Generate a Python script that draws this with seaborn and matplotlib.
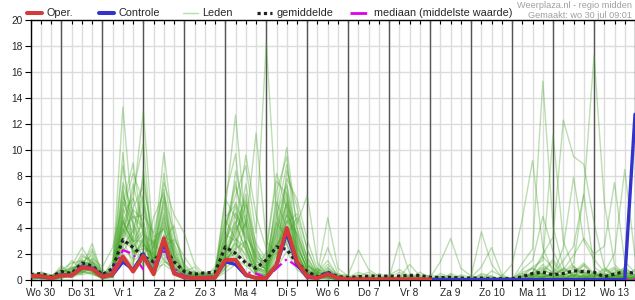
import numpy as np
import pandas as pd
import matplotlib
matplotlib.use("Agg")
import matplotlib.pyplot as plt
import seaborn as sns
from matplotlib.lines import Line2D

# ---------------- data (6-hourly steps, start Wo 30 06:00) ----------------
dagen = ['Wo 30', 'Do 31', 'Vr 1', 'Za 2', 'Zo 3', 'Ma 4', 'Di 5', 'Wo 6',
         'Do 7', 'Vr 8', 'Za 9', 'Zo 10', 'Ma 11', 'Di 12', 'Wo 13']

oper = [0.3, 0.3, 0.15, 0.35, 0.35, 0.95, 0.85, 0.25, 0.45, 1.8, 0.65, 1.85, 0.45, 3.2, 0.5,
        0.2, 0.15, 0.15, 0.2, 1.55, 1.55, 0.4, 0.15, 0.15, 1.15, 4.0, 1.4, 0.25, 0.15, 0.45,
        0.15, 0.05, 0.05, 0.05, 0.05, 0.05, 0.05, 0.05, 0.05, 0.05]

controle = [0.3, 0.25, 0.15, 0.4, 0.35, 1.0, 0.9, 0.3, 0.4, 1.4, 0.8, 2.0, 0.5, 2.8, 0.55,
            0.2, 0.15, 0.15, 0.2, 1.4, 1.2, 0.35, 0.15, 0.15, 1.1, 3.6, 1.2, 0.2, 0.15, 0.55,
            0.15, 0.03, 0.03, 0.03, 0.03, 0.03, 0.03, 0.03, 0.03, 0.03, 0.03, 0.03, 0.03, 0.03, 0.03,
            0.03, 0.03, 0.03, 0.03, 0.03, 0.03, 0.03, 0.03, 0.03, 0.03, 0.03, 0.03, 0.03, 0.03, 12.75]

gemiddelde = [0.4, 0.5, 0.25, 0.65, 0.5, 1.3, 1.1, 0.4, 0.9, 3.1, 2.5, 1.8, 1.4, 2.55, 1.4,
              0.65, 0.45, 0.55, 0.6, 2.55, 2.05, 1.3, 0.9, 1.55, 2.55, 2.35, 1.3, 0.65, 0.25, 0.6,
              0.25, 0.2, 0.25, 0.3, 0.3, 0.3, 0.3, 0.35, 0.35, 0.2, 0.2, 0.2, 0.15, 0.15, 0.15,
              0.1, 0.1, 0.1, 0.25, 0.5, 0.6, 0.4, 0.5, 0.7, 0.65, 0.6, 0.25, 0.45, 0.65, 0.5]

mediaan = [0.3, 0.3, 0.15, 0.4, 0.4, 1.1, 1.0, 0.3, 0.65, 2.3, 2.0, 0.8, 1.2, 2.2, 0.9,
           0.3, 0.2, 0.25, 0.25, 1.5, 1.4, 0.6, 0.5, 0.15, 0.9, 1.6, 1.05, 0.4, 0.15, 0.4,
           0.1, 0.05, 0.05, 0.05, 0.05, 0.05, 0.05, 0.05, 0.05, 0.05, 0.05, 0.05, 0.05, 0.05, 0.05,
           0.05, 0.05, 0.05, 0.05, 0.05, 0.05, 0.05, 0.05, 0.05, 0.05, 0.05, 0.05, 0.05, 0.05, 0.05]

leden = [
 [0.2,0.4,0.1, 0.3,0.6,1.2,1.0, 0.3,0.8,13.3,4.2, 2.1,0.8,3.5,1.2, 0.2,0.1,0.0,0.3, 2.4,1.8,0.6,0.2, 0.4,1.5,5.2,2.3, 0.4,0.1,0.6,0.1, 0.0,0.1,0.0,0.2, 0.1,0.3,0.0,0.1, 0.0,0.0,0.2,0.0, 0.0,0.1,0.0,0.0, 0.0,0.3,0.9,0.4, 0.2,0.0,0.6,1.1, 0.3,0.1,0.2,0.5, 0.2],
 [0.4,0.2,0.3, 0.8,0.5,1.8,1.5, 0.2,0.5,3.8,6.1, 13.0,2.4,5.6,1.8, 0.5,0.3,0.6,0.2, 3.1,4.5,2.2,0.6, 1.2,3.8,6.5,1.4, 0.8,0.2,0.3,0.0, 0.1,0.0,0.0,0.0, 0.0,0.0,0.1,0.0, 0.0,0.2,0.0,0.1, 0.0,0.0,0.0,0.1, 0.0,0.0,0.4,1.2, 0.5,0.8,0.3,0.2, 0.0,0.4,0.9,0.3, 0.1],
 [0.1,0.3,0.0, 0.2,0.9,0.6,2.2, 0.4,1.2,6.8,3.0, 4.5,1.1,8.2,2.6, 0.8,0.2,0.1,0.4, 5.5,12.7,4.1,1.0, 0.6,2.0,3.4,4.8, 1.5,0.3,0.2,0.1, 0.0,0.0,0.3,0.0, 0.2,0.0,0.0,0.0, 0.1,0.0,0.0,0.0, 0.3,0.0,0.0,0.0, 0.0,0.0,0.2,0.6, 1.4,0.3,0.0,0.1, 0.6,0.2,0.0,0.4, 0.8],
 [0.3,0.2,0.2, 0.5,0.3,0.9,0.6, 0.1,0.3,2.5,1.6, 3.2,0.9,2.8,0.6, 0.3,0.1,0.2,1.0, 4.2,6.5,8.8,3.6, 18.3,5.1,2.7,1.1, 0.3,0.5,1.2,0.4, 0.1,0.2,0.0,0.0, 0.0,0.4,0.2,0.0, 0.0,0.0,0.1,0.3, 0.0,0.0,0.2,0.0, 0.1,0.0,0.3,0.2, 0.0,0.5,1.1,0.3, 0.2,0.0,0.3,0.1, 0.0],
 [0.5,0.3,0.1, 0.4,1.5,0.8,0.9, 0.6,0.2,4.6,2.8, 1.9,3.1,1.5,0.8, 0.1,0.4,0.3,0.0, 1.8,2.9,1.4,0.3, 0.2,6.8,9.5,2.0, 0.3,0.2,0.4,0.2, 0.1,0.0,0.0,0.1, 0.0,0.0,0.3,0.2, 0.0,0.0,0.0,0.0, 0.1,0.0,0.0,0.0, 0.0,0.2,0.5,0.3, 0.4,1.5,2.6,6.6, 17.3,6.0,1.2,0.4, 0.2],
 [0.2,0.6,0.4, 0.3,0.4,1.1,0.7, 0.3,0.9,7.5,5.2, 2.8,1.6,4.2,0.9, 0.4,0.6,0.2,0.1, 2.0,3.6,5.8,1.9, 1.0,4.4,7.2,3.0, 0.7,0.1,0.5,0.2, 0.0,0.3,0.1,0.0, 0.1,0.0,0.0,0.2, 0.0,0.1,0.0,0.0, 0.0,0.2,0.0,0.0, 0.0,1.3,2.4,15.3, 4.1,1.0,0.3,0.1, 0.4,0.2,0.6,0.9, 0.3],
 [0.0,0.2,0.3, 0.6,0.2,0.5,1.3, 0.2,0.6,5.3,8.2, 6.0,2.2,9.8,3.4, 1.2,0.5,0.3,0.2, 0.8,5.1,3.2,0.8, 0.5,1.2,8.4,5.6, 2.3,0.6,0.3,0.0, 0.2,0.0,0.0,0.0, 0.0,0.1,0.0,0.0, 0.2,0.0,0.0,0.1, 0.0,0.0,0.1,0.0, 0.0,0.4,1.0,1.5, 11.2,3.0,0.9,0.4, 0.2,0.8,0.3,0.1, 0.0],
 [0.3,0.1,0.0, 0.2,0.7,1.4,0.9, 0.5,0.4,3.1,1.2, 5.8,0.7,2.4,1.5, 0.2,0.1,0.4,0.6, 6.4,9.7,2.5,0.4, 0.3,2.6,4.0,1.6, 0.4,0.0,0.8,0.3, 0.0,0.1,0.2,0.0, 0.0,0.2,0.0,0.0, 0.0,0.0,0.4,0.0, 0.0,0.0,0.0,0.2, 0.1,0.0,0.6,2.0, 3.3,12.3,9.5,8.9, 4.4,1.0,0.3,0.2, 0.1],
 [0.1,0.3,0.2, 1.1,0.4,0.7,0.5, 0.2,1.5,8.8,3.9, 1.4,4.8,6.7,0.7, 0.1,0.2,0.1,0.3, 1.2,2.2,6.0,2.8, 1.6,5.5,10.2,3.9, 1.1,0.7,0.2,0.1, 0.0,0.0,0.1,0.0, 0.0,0.0,0.2,0.0, 0.0,0.3,0.0,0.0, 0.0,0.0,0.0,0.3, 1.2,4.7,9.2,2.5, 0.6,0.2,0.1,0.0, 0.0,0.3,0.1,0.5, 0.2],
 [0.2,0.2,0.1, 0.4,1.1,2.5,1.2, 0.1,0.3,2.0,1.1, 8.5,1.5,4.8,2.0, 0.6,1.0,0.2,0.1, 3.8,7.2,4.4,1.5, 0.8,3.1,6.0,2.2, 0.5,0.3,0.2,0.0, 0.1,0.0,0.0,0.0, 0.0,0.0,0.0,0.1, 0.0,0.0,0.0,0.0, 0.0,0.0,0.1,0.0, 0.0,0.2,0.3,0.8, 0.4,2.5,7.9,3.0, 1.6,0.6,2.0,8.5, 1.8],
 [0.6,0.4,0.2, 0.3,0.3,1.0,2.8, 0.4,0.5,4.0,2.6, 3.6,0.4,3.0,4.2, 0.9,0.2,0.1,0.3, 1.5,4.0,9.6,5.0, 2.4,8.2,5.5,1.8, 0.6,0.4,2.5,0.5, 0.3,0.0,0.0,0.2, 0.0,0.3,0.0,0.0, 0.0,0.0,0.0,0.2, 0.0,0.0,0.3,0.0, 0.0,0.0,0.2,0.5, 0.3,0.8,1.9,3.2, 2.0,2.6,7.5,1.4, 0.6],
 [0.3,0.5,0.3, 0.6,0.4,0.6,0.8, 0.2,0.7,6.0,4.4, 2.5,2.0,5.0,1.0, 0.3,0.4,0.5,0.2, 2.8,1.5,3.0,0.9, 0.7,3.5,7.8,6.2, 3.1,0.8,0.6,0.3, 0.4,2.3,0.8,0.3, 0.2,2.9,0.5,0.2, 0.1,0.3,0.0,0.0, 0.0,0.0,0.0,0.1, 0.0,0.0,0.1,0.0, 0.2,0.0,0.4,0.6, 0.3,0.2,0.1,0.0, 0.0],
 [0.1,0.1,0.1, 0.2,0.2,0.8,1.1, 0.6,0.2,3.4,7.4, 4.0,1.2,6.3,2.3, 0.5,0.1,0.0,0.6, 4.6,3.2,1.8,0.5, 0.4,1.8,3.0,2.5, 0.9,0.2,0.1,0.2, 0.0,0.0,0.0,0.0, 0.3,0.0,0.1,0.6, 0.2,1.4,3.2,0.9, 0.3,3.7,1.2,0.2, 0.0,0.3,0.6,1.8, 0.9,0.4,0.6,1.3, 0.5,0.2,0.8,0.3, 0.1],
 [0.4,0.3,0.2, 0.3,0.8,1.3,1.9, 0.3,0.4,2.8,5.6, 7.2,3.3,3.9,1.4, 0.2,0.3,0.2,0.4, 2.2,8.4,5.2,1.2, 0.9,2.2,4.6,3.5, 1.7,0.5,4.8,0.9, 0.3,0.0,0.2,0.0, 0.0,0.0,0.0,0.0, 0.0,0.0,0.0,0.0, 0.0,0.2,0.0,0.0, 0.0,0.0,0.0,0.4, 0.0,0.3,0.2,0.6, 0.1,0.2,0.4,0.2, 0.0],
 [0.2,0.2,0.0, 0.1,0.5,0.4,0.6, 0.1,0.2,1.8,0.9, 2.2,0.6,1.7,0.5, 0.1,0.2,0.0,0.1, 0.9,1.6,1.1,0.4, 0.2,0.9,2.2,0.8, 0.2,0.1,0.3,0.0, 0.0,0.0,0.0,0.0, 0.0,0.0,0.0,0.0, 0.0,0.0,0.0,0.0, 0.0,0.0,0.0,0.0, 0.0,0.1,0.2,0.3, 0.2,0.1,0.3,0.2, 0.0,0.1,0.2,0.4, 0.1],
 [0.5,0.2,0.1, 0.4,0.2,1.0,1.4, 0.8,0.3,5.0,3.2, 1.0,1.8,2.6,3.1, 1.8,0.6,0.2,0.1, 1.4,2.5,7.4,2.6, 0.6,4.8,8.9,4.3, 6.5,1.3,0.4,0.2, 0.1,0.2,0.0,0.0, 0.0,0.0,0.0,0.0, 0.0,0.0,0.0,0.0, 0.2,1.0,2.5,0.4, 0.1,0.0,0.0,0.2, 0.5,0.0,0.2,0.0, 0.3,0.5,0.2,0.6, 0.4],
 [0.3,0.4,0.1, 0.2,0.3,0.7,0.4, 0.2,0.6,9.8,2.0, 3.0,0.5,4.4,1.7, 0.6,0.3,0.3,0.5, 6.2,4.8,3.4,2.0, 1.3,6.0,4.1,1.5, 0.4,0.9,0.2,0.1, 0.0,0.1,0.0,0.0, 0.1,0.0,0.0,0.0, 0.0,0.0,0.1,0.0, 0.0,0.0,0.0,0.0, 0.0,0.8,1.5,4.9, 2.2,0.6,1.3,6.6, 1.0,0.4,0.2,1.0, 0.3],
 [0.1,0.2,0.2, 0.7,0.6,0.5,1.0, 0.3,0.5,4.2,6.8, 10.5,1.0,3.1,0.9, 0.2,0.2,0.1,0.2, 1.0,3.2,2.4,0.6, 0.4,1.5,6.2,3.3, 1.2,0.2,0.1,0.1, 0.0,0.0,0.0,0.0, 0.0,0.0,0.0,0.2, 0.0,0.0,0.0,0.0, 0.0,0.0,0.0,0.0, 0.0,0.0,0.0,0.1, 0.0,0.2,0.0,0.4, 0.0,0.1,0.0,0.2, 0.0],
 [0.2,0.3,0.2, 0.5,1.0,0.8,1.1, 0.5,0.8,3.0,2.4, 1.2,2.6,7.5,5.0, 3.6,1.2,0.4,0.8, 3.3,5.6,2.8,1.1, 0.9,2.8,3.6,2.0, 0.6,0.2,0.7,0.3, 0.0,0.0,0.2,0.0, 0.0,0.0,0.0,0.0, 0.0,0.0,0.0,0.0, 0.0,0.0,0.0,0.0, 0.2,0.0,0.0,0.3, 0.1,0.0,0.5,0.2, 0.0,0.3,0.6,0.1, 0.2],
 [0.3,0.1,0.1, 0.2,0.3,0.6,0.5, 0.1,0.4,7.2,1.5, 2.0,0.8,2.0,0.4, 0.1,0.0,0.2,0.1, 0.6,1.2,4.7,1.6, 0.8,2.4,5.0,1.7, 0.3,0.1,0.2,0.0, 0.0,0.0,0.0,0.0, 0.0,0.0,0.0,0.0, 0.0,0.0,0.0,0.0, 0.0,0.0,0.0,0.0, 0.0,0.0,0.2,0.0, 0.0,0.0,0.1,0.0, 0.0,0.0,0.0,0.2, 0.0],
 [0.4,0.2,0.3, 0.9,0.5,1.6,0.7, 0.2,0.3,2.2,3.3, 6.2,0.9,1.2,0.6, 0.2,0.1,0.3,0.2, 2.6,6.0,4.0,11.3, 3.0,2.0,2.8,1.2, 0.5,0.3,0.4,0.1, 0.0,0.4,0.0,0.0, 0.0,0.0,0.0,0.0, 0.0,0.0,0.0,0.0, 0.0,0.0,0.0,0.0, 0.0,0.0,0.0,0.0, 0.0,0.0,0.0,0.2, 0.1,0.0,0.2,0.0, 0.0],
 [0.2,0.4,0.2, 0.3,0.4,0.9,1.7, 1.0,2.5,5.8,9.0, 3.4,1.4,2.2,0.7, 0.3,0.2,0.0,0.0, 1.7,2.0,1.5,0.7, 0.3,1.0,3.8,2.8, 0.7,0.1,0.2,0.1, 0.1,0.0,0.0,0.0, 0.0,0.0,0.0,0.0, 0.0,0.2,0.0,0.0, 0.0,0.0,0.0,0.0, 0.0,0.0,0.0,0.2, 0.0,0.0,0.0,0.0, 0.0,0.2,0.0,0.0, 0.0],
 [0.3,0.3,0.1, 0.3,0.9,1.2,1.4, 0.4,0.6,4.8,2.1, 2.7,1.9,4.6,2.0, 0.5,0.4,0.6,0.3, 2.1,3.4,6.6,2.2, 1.1,3.4,5.7,4.0, 1.8,0.3,0.3,0.2, 0.2,0.0,0.0,0.1, 0.0,0.0,0.0,0.0, 0.0,0.0,0.0,0.0, 0.0,0.0,0.0,0.0, 0.0,0.3,0.4,0.2, 0.6,0.2,0.1,0.3, 0.0,0.1,0.4,0.0, 0.0],
 [0.1,0.2,0.1, 0.4,0.4,0.8,0.9, 0.2,0.2,3.6,4.9, 4.0,0.3,1.4,1.1, 0.2,0.1,0.2,0.3, 1.3,2.8,2.0,0.6, 2.2,7.6,6.6,2.6, 0.9,0.4,0.2,0.1, 0.0,0.0,0.0,0.0, 0.0,0.0,0.0,0.0, 0.0,0.0,0.0,0.0, 0.0,0.0,0.0,0.0, 0.0,0.0,0.2,0.0, 0.3,0.0,0.0,0.1, 0.0,0.0,0.0,0.3, 0.0],
 [0.2,0.5,0.2, 0.4,0.7,2.0,1.3, 0.3,1.0,5.5,3.6, 8.0,2.5,6.0,1.6, 0.4,0.2,0.3,0.5, 3.0,5.2,3.6,1.4, 0.8,4.2,6.8,2.4, 1.0,0.6,1.5,0.3, 0.2,0.6,0.3,0.1, 0.4,0.8,0.3,0.1, 0.0,0.5,0.2,0.0, 0.1,0.4,0.2,0.0, 0.0,0.2,0.5,1.0, 0.6,0.3,0.8,0.5, 0.2,0.6,1.0,0.4, 0.3],
 [0.3,0.2,0.2, 0.6,0.9,1.1,2.4, 0.5,0.6,4.4,2.9, 3.8,1.3,5.2,2.4, 0.6,0.5,0.2,0.3, 1.9,3.9,5.0,2.3, 1.5,5.0,7.4,3.2, 1.3,0.4,1.0,0.2, 0.1,0.3,0.6,0.2, 0.1,0.2,1.2,0.3, 0.2,0.1,0.0,0.4, 0.2,0.0,0.7,0.3, 0.0,0.0,0.3,0.7, 1.6,0.5,0.2,1.2, 0.4,0.3,0.5,0.7, 0.2],
 [0.1,0.4,0.1, 0.2,0.6,1.4,0.8, 0.4,0.3,6.4,4.8, 5.0,3.6,7.0,1.9, 0.3,0.7,0.4,0.2, 4.0,7.6,2.6,0.9, 0.6,3.0,5.4,2.9, 0.8,0.3,0.5,0.2, 0.0,0.0,0.4,0.3, 0.1,0.0,0.0,0.4, 0.3,0.0,0.5,0.2, 0.0,0.3,0.0,0.1, 0.2,0.5,0.3,0.2, 0.4,0.9,0.4,0.2, 0.5,0.1,0.3,0.6, 0.2],
 [0.4,0.3,0.2, 0.3,0.5,0.7,1.0, 0.2,0.9,3.2,5.4, 4.6,0.8,3.4,2.8, 1.1,0.3,0.1,0.4, 2.3,4.4,6.2,1.8, 1.0,2.6,4.4,5.1, 2.4,0.5,0.3,0.1, 0.3,0.1,0.0,0.5, 0.2,0.6,0.2,0.0, 0.4,0.2,0.1,0.0, 0.0,0.5,0.3,0.0, 0.1,0.0,0.2,0.5, 0.2,0.4,0.3,0.8, 0.2,0.4,0.1,0.3, 0.1],
 [0.2,0.6,0.3, 0.5,0.3,0.9,0.7, 0.3,0.4,5.1,6.3, 3.5,2.8,4.0,1.3, 0.4,0.3,0.5,0.1, 3.5,3.0,4.4,1.0, 0.7,3.8,5.9,2.1, 0.6,0.2,0.9,0.4, 0.2,0.0,0.1,0.0, 0.0,0.1,0.4,0.1, 0.0,0.0,0.3,0.1, 0.0,0.0,0.0,0.2, 0.0,0.6,0.9,0.4, 0.3,0.2,1.0,0.6, 0.3,0.9,0.4,0.2, 0.1],
 [0.3,0.2,0.1, 0.2,0.4,1.0,0.6, 0.1,0.2,2.6,3.8, 6.6,1.7,3.0,1.0, 0.2,0.2,0.0,0.2, 1.6,2.4,3.0,0.8, 0.5,2.0,4.6,1.9, 0.4,0.2,0.2,0.0, 0.0,0.0,0.0,0.0, 0.0,0.0,0.0,0.0, 0.0,0.0,0.0,0.0, 0.0,0.0,0.0,0.0, 0.0,0.0,0.1,0.2, 0.0,0.2,0.4,0.3, 0.1,0.0,0.2,0.3, 0.0],
 [0.5,0.4,0.2, 0.8,1.3,1.5,1.1, 0.6,0.5,3.9,2.2, 2.4,2.1,6.5,3.6, 0.9,0.4,0.2,0.6, 4.8,5.8,3.8,1.7, 1.2,4.4,3.2,1.4, 0.5,0.6,0.3,0.1, 0.1,0.4,0.2,0.0, 0.3,0.0,0.0,0.0, 0.1,0.0,0.0,0.0, 0.0,0.0,0.0,0.0, 0.0,0.0,0.4,0.9, 0.3,0.1,0.2,0.0, 0.0,0.2,0.3,0.8, 0.4],
 [0.2,0.3,0.2, 0.3,0.6,0.7,1.6, 0.4,0.6,4.5,3.0, 3.0,1.0,2.6,0.9, 0.3,0.3,0.2,0.1, 2.0,4.2,2.4,0.5, 0.4,2.8,5.0,3.6, 1.2,0.4,0.6,0.2, 0.0,0.2,0.0,0.0, 0.0,0.0,0.2,0.0, 0.0,0.1,0.0,0.0, 0.0,0.0,0.0,0.0, 0.0,0.0,0.0,0.2, 0.0,0.1,0.0,0.4, 0.0,0.1,0.3,0.1, 0.0],
]

# ---------------- figure ----------------
sns.set_theme(style="white")
plt.rcParams['font.family'] = ['Liberation Sans', 'DejaVu Sans']

W, H = 635, 300
fig = plt.figure(figsize=(W / 100, H / 100), dpi=100)
ax = fig.add_axes([30.7 / W, 20 / H, 1 - 30.7 / W, 260 / H])

n = len(controle)
t = np.arange(n)

ax.set_xlim(0, n - 1)
ax.set_ylim(0, 20)
ax.set_yticks(np.arange(0, 21, 2))
ax.set_xticks(t)
labels = [''] * n
for k, d in enumerate(dagen):
    labels[1 + 4 * k] = d
ax.set_xticklabels(labels)
ax.grid(True, color='#dcdcdc', lw=1, zorder=0)
ax.set_axisbelow(True)
for m in range(3, n, 4):
    ax.axvline(m, color='#555555', lw=1, zorder=1)

# members
rows = []
for j, lid in enumerate(leden):
    for i, v in enumerate(lid):
        rows.append((j, i, v))
df = pd.DataFrame(rows, columns=['lid', 't', 'v'])
sns.lineplot(data=df, x='t', y='v', units='lid', estimator=None, color='#46a526',
             alpha=0.36, lw=1, ax=ax, legend=False, zorder=2)

sns.lineplot(x=t, y=gemiddelde, color='#222222', lw=2.3, ls=(0, (1, 1)), ax=ax, zorder=3)
sns.lineplot(x=t, y=mediaan, color='#e000e8', lw=1.6, ls=(0, (5, 2, 1, 2)), ax=ax, zorder=4)
sns.lineplot(x=t, y=controle, color='#3333cc', lw=2.4, ax=ax, zorder=5)
sns.lineplot(x=np.arange(len(oper)), y=oper, color='#d43a3a', lw=2.9, ax=ax, zorder=6)

ax.set_xlabel('')
ax.set_ylabel('')
for s in ['left', 'bottom', 'top']:
    ax.spines[s].set_color('black')
    ax.spines[s].set_linewidth(1)
ax.spines['right'].set_visible(False)
ax.tick_params(axis='x', which='both', bottom=True, top=True, direction='out', length=4,
               width=0.8, color='black', labelsize=7.3, pad=2)
for tl in ax.xaxis.get_ticklines()[1::2]:
    tl.set_marker(3)
    tl.set_markersize(3)
ax.tick_params(axis='y', left=True, direction='out', length=4, width=0.8, color='black',
               labelsize=7.3, pad=2)

# legend entries placed individually
items = [
    (Line2D([], [], color='#d43a3a', lw=2.9), 'Oper.', 27, 1.4),
    (Line2D([], [], color='#3333cc', lw=2.9), 'Controle', 99, 1.4),
    (Line2D([], [], color='#b9dca9', lw=1), 'Leden', 183, 1.4),
    (Line2D([], [], color='#222222', lw=2.3, ls=(0, (1, 1))), 'gemiddelde', 257, 1.4),
    (Line2D([], [], color='#e000e8', lw=2, ls=(0, (6, 2, 1, 2))), 'mediaan (middelste waarde)', 350, 1.8),
]
for h, lab, x0, hl in items:
    fig.legend([h], [lab], loc='center left', bbox_to_anchor=(x0 / W, 1 - 13.5 / H),
               frameon=False, fontsize=7.8, handlelength=hl, handletextpad=0.4,
               borderaxespad=0, borderpad=0)

fig.text(632 / W, 1 - 5 / H, 'Weerplaza.nl - regio midden', ha='right', va='center',
         fontsize=6.6, color='#a0a0a0')
fig.text(632 / W, 1 - 15 / H, 'Gemaakt: wo 30 jul 09:01', ha='right', va='center',
         fontsize=6.6, color='#a0a0a0')

fig.savefig('out.png', dpi=100)
